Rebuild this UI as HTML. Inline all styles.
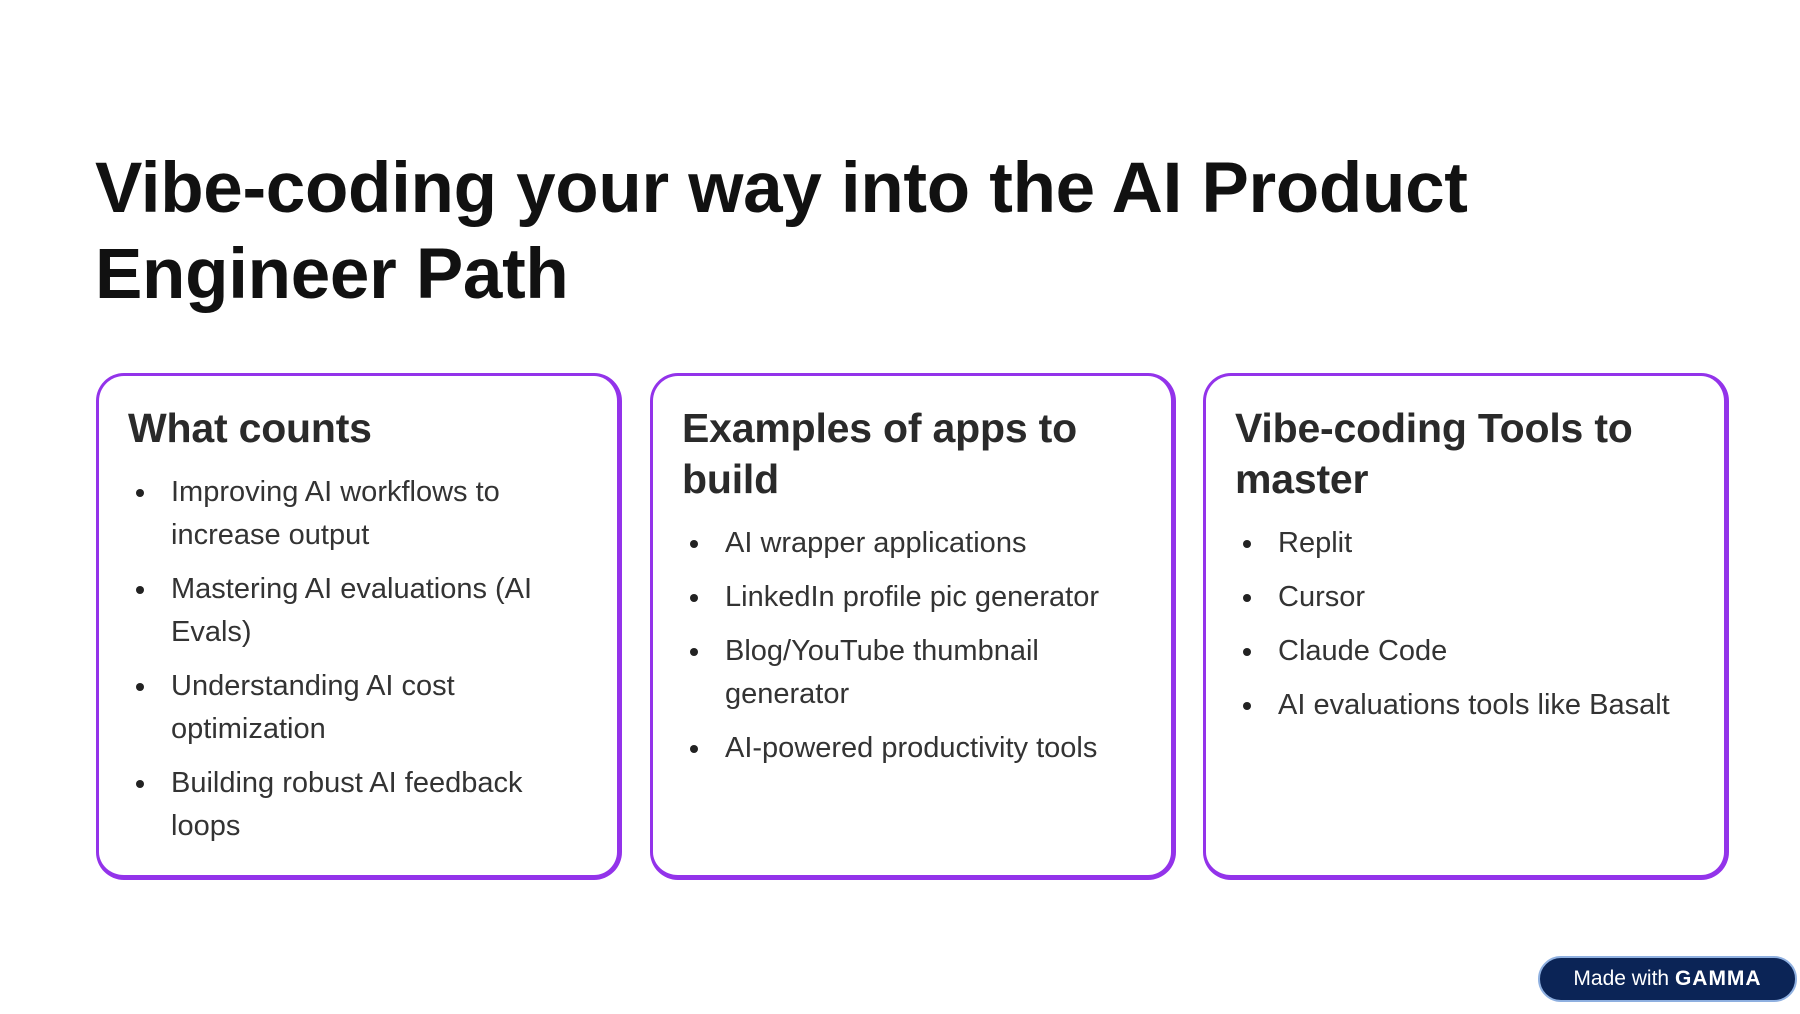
<!DOCTYPE html>
<html><head><meta charset="utf-8"><style>
*{margin:0;padding:0;box-sizing:border-box}
body{width:1800px;height:1014px;background:#fff;position:relative;overflow:hidden;font-family:"Liberation Sans",sans-serif;color:#1a1a1a}
h1{position:absolute;left:95px;top:146px;font-size:71px;line-height:86px;font-weight:bold;letter-spacing:-0.3px;color:#111;width:1650px}
.card{position:absolute;top:373px;height:507px;border:3px solid #9333ea;border-right-width:5px;border-bottom-width:5px;border-radius:28px;padding:27px 30px 0 29px}
.card h2{font-size:41px;line-height:51px;font-weight:bold;color:#2a2a2a;margin-bottom:17px;letter-spacing:-0.2px}
.card ul{list-style:none}
.card li{position:relative;padding-left:43px;font-size:29px;line-height:43px;color:#333;margin-bottom:11px}
.card li:before{content:"";position:absolute;left:8px;top:18px;width:8px;height:8px;border-radius:50%;background:#222}
.badge{position:absolute;left:1538px;top:956px;width:259px;height:46px;border-radius:23px;background:#0b2456;border:2px solid #8fb0e0;color:#fff;font-size:21px;line-height:42px;text-align:center}
.badge b{font-weight:900;letter-spacing:1px}
</style></head><body>
<h1>Vibe-coding your way into the AI Product<br>Engineer Path</h1>
<div class="card" style="left:96px;width:526px">
<h2>What counts</h2>
<ul><li>Improving AI workflows to increase output</li><li>Mastering AI evaluations (AI Evals)</li><li>Understanding AI cost optimization</li><li>Building robust AI feedback loops</li></ul></div>
<div class="card" style="left:650px;width:526px">
<h2>Examples of apps to build</h2>
<ul><li>AI wrapper applications</li><li>LinkedIn profile pic generator</li><li>Blog/YouTube thumbnail generator</li><li>AI-powered productivity tools</li></ul></div>
<div class="card" style="left:1203px;width:526px">
<h2>Vibe-coding Tools to master</h2>
<ul><li>Replit</li><li>Cursor</li><li>Claude Code</li><li>AI evaluations tools like Basalt</li></ul></div>
<div class="badge">Made with <b>GAMMA</b></div>
</body></html>
